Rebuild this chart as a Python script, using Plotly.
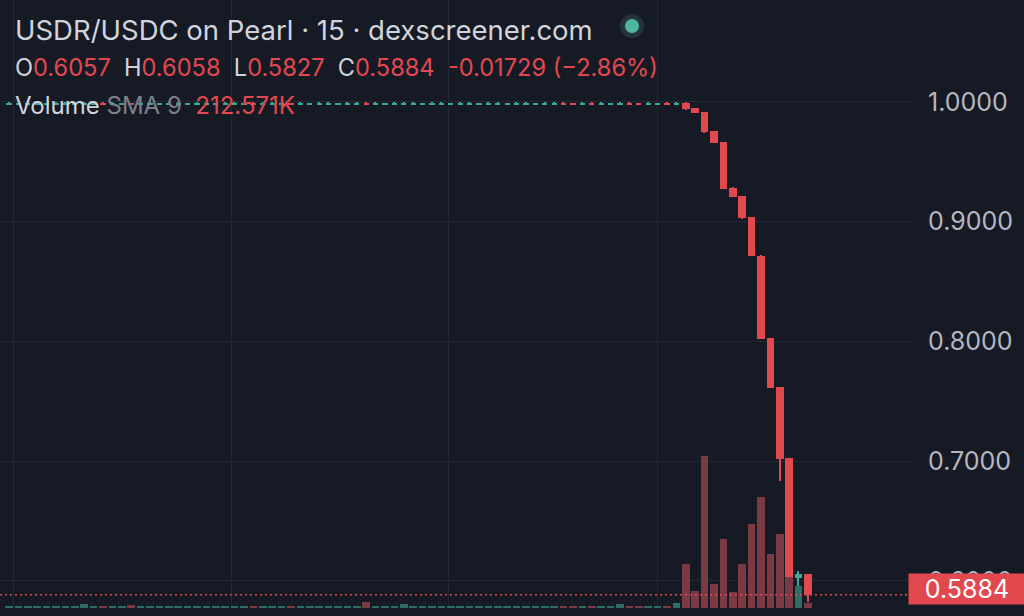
import plotly.graph_objects as go

# ---------------- data (15-minute candles, USDR/USDC on Pearl) ----------------
opens = [0.9979, 0.9980, 0.9979, 0.9980, 0.9979, 0.9979, 0.9980, 0.9979, 0.9978, 0.9980,
         0.9994, 0.9979, 0.9980, 0.9993, 0.9979, 0.9980, 0.9979, 0.9979, 0.9980, 0.9979,
         0.9980, 0.9979, 0.9979, 0.9980, 0.9979, 0.9980, 0.9994, 0.9979, 0.9980, 0.9979,
         0.9993, 0.9979, 0.9980, 0.9979, 0.9979, 0.9980, 0.9979, 0.9980, 0.9995, 0.9979,
         0.9980, 0.9979, 0.9978, 0.9980, 0.9979, 0.9979, 0.9980, 0.9979, 0.9980, 0.9979,
         0.9979, 0.9980, 0.9979, 0.9980, 0.9979, 0.9979, 0.9980, 0.9979, 0.9980, 0.9994,
         0.9993, 0.9979, 0.9994, 0.9979, 0.9980, 0.9979, 0.9994, 0.9993, 0.9979, 0.9980,
         0.9994, 0.9979,
         0.9994, 0.9947, 0.9916, 0.9755, 0.9666, 0.9284, 0.9215, 0.9037, 0.8716, 0.8028,
         0.7617, 0.7023, 0.6027, 0.6057]
closes = [0.9994, 0.9993, 0.9994, 0.9994, 0.9993, 0.9994, 0.9994, 0.9993, 0.9995, 0.9994,
          0.9979, 0.9994, 0.9993, 0.9978, 0.9994, 0.9994, 0.9993, 0.9994, 0.9994, 0.9993,
          0.9994, 0.9994, 0.9993, 0.9994, 0.9994, 0.9993, 0.9979, 0.9994, 0.9994, 0.9993,
          0.9979, 0.9994, 0.9993, 0.9994, 0.9994, 0.9993, 0.9994, 0.9994, 0.9978, 0.9994,
          0.9993, 0.9994, 0.9995, 0.9994, 0.9993, 0.9994, 0.9994, 0.9993, 0.9994, 0.9994,
          0.9993, 0.9994, 0.9994, 0.9993, 0.9994, 0.9994, 0.9993, 0.9994, 0.9994, 0.9979,
          0.9978, 0.9994, 0.9979, 0.9994, 0.9993, 0.9994, 0.9979, 0.9978, 0.9994, 0.9993,
          0.9979, 0.9995,
          0.9939, 0.9911, 0.9747, 0.9660, 0.9273, 0.9209, 0.9028, 0.8713, 0.8018, 0.7611,
          0.7015, 0.6029, 0.60569, 0.5884]
highs = [0.9996, 0.9995, 0.9996, 0.9996, 0.9995, 0.9996, 0.9996, 0.9995, 0.9997, 0.9996,
         0.9996, 0.9996, 0.9995, 0.9995, 0.9996, 0.9996, 0.9995, 0.9996, 0.9996, 0.9995,
         0.9996, 0.9996, 0.9995, 0.9996, 0.9996, 0.9995, 0.9996, 0.9996, 0.9996, 0.9995,
         0.9995, 0.9996, 0.9995, 0.9996, 0.9996, 0.9995, 0.9996, 0.9996, 0.9997, 0.9996,
         0.9995, 0.9996, 0.9997, 0.9996, 0.9995, 0.9996, 0.9996, 0.9995, 0.9996, 0.9996,
         0.9995, 0.9996, 0.9996, 0.9995, 0.9996, 0.9996, 0.9995, 0.9996, 0.9996, 0.9996,
         0.9995, 0.9996, 0.9996, 0.9996, 0.9995, 0.9996, 0.9996, 0.9995, 0.9996, 0.9995,
         0.9996, 0.9997,
         0.9996, 0.9948, 0.9918, 0.9757, 0.9668, 0.9286, 0.9217, 0.9039, 0.8718, 0.8030,
         0.7619, 0.7025, 0.6078, 0.6058]
lows = [0.9977, 0.9978, 0.9977, 0.9978, 0.9977, 0.9977, 0.9978, 0.9977, 0.9976, 0.9978,
        0.9977, 0.9977, 0.9978, 0.9976, 0.9977, 0.9978, 0.9977, 0.9977, 0.9978, 0.9977,
        0.9978, 0.9977, 0.9977, 0.9978, 0.9977, 0.9978, 0.9977, 0.9977, 0.9978, 0.9977,
        0.9977, 0.9977, 0.9978, 0.9977, 0.9977, 0.9978, 0.9977, 0.9978, 0.9976, 0.9977,
        0.9978, 0.9977, 0.9976, 0.9978, 0.9977, 0.9977, 0.9978, 0.9977, 0.9978, 0.9977,
        0.9977, 0.9978, 0.9977, 0.9978, 0.9977, 0.9977, 0.9978, 0.9977, 0.9978, 0.9977,
        0.9976, 0.9977, 0.9977, 0.9977, 0.9978, 0.9977, 0.9977, 0.9976, 0.9977, 0.9978,
        0.9977, 0.9977,
        0.9937, 0.9909, 0.9745, 0.9658, 0.9270, 0.9207, 0.9026, 0.8711, 0.8016, 0.7609,
        0.6836, 0.6027, 0.5945, 0.5827]
volumes = [8200, 7900, 8100, 8000, 7800, 8300, 8000, 7900, 16000, 8100,
           8000, 7900, 8200, 13000, 8000, 7800, 8100, 8000, 7900, 8200,
           8000, 8100, 7900, 8000, 8200, 7800, 8000, 8100, 7900, 8000,
           8200, 8000, 7900, 8100, 8000, 7800, 8200, 8000, 25000, 7900,
           8100, 8000, 19000, 8200, 7900, 8000, 8100, 7800, 8000, 8200,
           7900, 8000, 8100, 8000, 7900, 8200, 8000, 7800, 8100, 8000,
           8200, 7900, 8000, 8100, 7800, 19000, 8000, 8200, 7900, 8000,
           8100, 20000,
           190000, 73000, 660000, 104000, 299000, 68000, 190000, 365000, 483000, 234000,
           322000, 135000, 96000, 20139]
price_ticks = [0.6, 0.7, 0.8, 0.9, 1.0]
grid_candles = [0.43, 23.7, 46.8, 69.0]   # time-grid positions (candle index)

title_text = "USDR/USDC on Pearl · 15 · dexscreener.com"
change_text = "-0.01729"
change_pct_text = "(−2.86%)"
sma_len = 9

# ---------------- styling ----------------
BG = "#161a25"
GRID = "#242834"
RED = "#e2494f"
TEAL = "#3aa993"
RED_VOL = "#7b3944"
TEAL_VOL = "#2c6e64"
TXT = "#d1d4dc"
FONT = "Inter"

n = len(opens)
idx = list(range(n))
up = [c >= o for o, c in zip(opens, closes)]
ccol = [TEAL if u else RED for u in up]
vcol = [TEAL_VOL if u else RED_VOL for u in up]
body_base = [min(o, c) for o, c in zip(opens, closes)]
body_h = [abs(c - o) for o, c in zip(opens, closes)]
body_w = [0.8 if h > 0.002 else 0.55 for h in body_h]
wick_h = [h - l for h, l in zip(highs, lows)]

fig = go.Figure()
# wicks
fig.add_trace(go.Bar(x=idx, y=wick_h, base=lows, width=0.15, marker_color=ccol,
                     marker_line_width=0, hoverinfo="skip", showlegend=False))
# bodies
fig.add_trace(go.Bar(x=idx, y=body_h, base=body_base, width=body_w, marker_color=ccol,
                     marker_line_width=0, showlegend=False))
# volume
fig.add_trace(go.Bar(x=idx, y=volumes, yaxis="y2", width=0.8, marker_color=vcol,
                     marker_line_width=0, showlegend=False))

last_o, last_h, last_l, last_c = opens[-1], highs[-1], lows[-1], closes[-1]
sma = sum(volumes[-sma_len:]) / sma_len

PLOT_H = 608

def py(p):
    return 1 - p / PLOT_H

annotations = [
    dict(text=title_text, x=0, y=py(30), xref="paper", yref="paper", xanchor="left",
         yanchor="middle", xshift=13, showarrow=False, font=dict(family=FONT, size=27.5, color=TXT)),
    dict(text=(f"O<span style='color:{RED}'>{last_o:.4f}</span>  "
               f"H<span style='color:{RED}'>{last_h:.4f}</span>  "
               f"L<span style='color:{RED}'>{last_l:.4f}</span>  "
               f"C<span style='color:{RED}'>{last_c:.4f}</span>  "
               f"<span style='color:{RED}'>{change_text} {change_pct_text}</span>"),
         x=0, y=py(68), xref="paper", yref="paper", xanchor="left", yanchor="middle",
         xshift=13, showarrow=False, font=dict(family=FONT, size=23.6, color=TXT)),
    dict(text=(f"Volume <span style='color:#7d808a'>SMA {sma_len}</span>  "
               f"<span style='color:{RED}'>{sma/1000:.3f}K</span>"),
         x=0, y=py(106), xref="paper", yref="paper", xanchor="left", yanchor="middle",
         xshift=13, showarrow=False, font=dict(family=FONT, size=24, color=TXT)),
    dict(text=f"{last_c:.4f}", x=1, y=last_c, xref="paper", yref="y", xanchor="left",
         yanchor="middle", xshift=-2, yshift=6, showarrow=False, bgcolor=RED,
         width=110, height=24, borderpad=3, align="center",
         font=dict(family=FONT, size=25, color="#ffffff")),
]

shapes = [
    dict(type="line", xref="paper", x0=0, x1=1, yref="y", y0=last_c, y1=last_c,
         line=dict(color=RED, width=1.5, dash="2px,3px")),
    dict(type="circle", xref="paper", yref="paper", xsizemode="pixel", ysizemode="pixel",
         xanchor=0, yanchor=1, x0=620, x1=644, y0=-38, y1=-14,
         fillcolor="#24343a", line_width=0),
    dict(type="circle", xref="paper", yref="paper", xsizemode="pixel", ysizemode="pixel",
         xanchor=0, yanchor=1, x0=625, x1=639, y0=-33, y1=-19,
         fillcolor="#4cb79d", line_width=0),
]

fig.update_layout(
    width=1024, height=616,
    margin=dict(l=0, r=114, t=0, b=8),
    paper_bgcolor=BG, plot_bgcolor=BG,
    barmode="overlay", bargap=0,
    showlegend=False,
    annotations=annotations,
    shapes=shapes,
    xaxis=dict(range=[-0.957, 95.85], tickvals=grid_candles, showticklabels=False,
               showgrid=True, gridcolor=GRID, gridwidth=1, zeroline=False, showline=False,
               ticks=""),
    yaxis=dict(side="right", range=[0.5773, 1.0852], tickvals=price_ticks, tickformat=".4f",
               showgrid=True, gridcolor=GRID, gridwidth=1, zeroline=False, showline=False,
               ticks="", ticklabelstandoff=17,
               tickfont=dict(family=FONT, size=25, color="#b4b7c0")),
    yaxis2=dict(overlaying="y", range=[0, 2.645e6], visible=False, showgrid=False),
)

fig.write_html("out.html", config={"displayModeBar": False},
               post_script="document.body.style.margin='0';document.body.style.overflow='hidden';")
